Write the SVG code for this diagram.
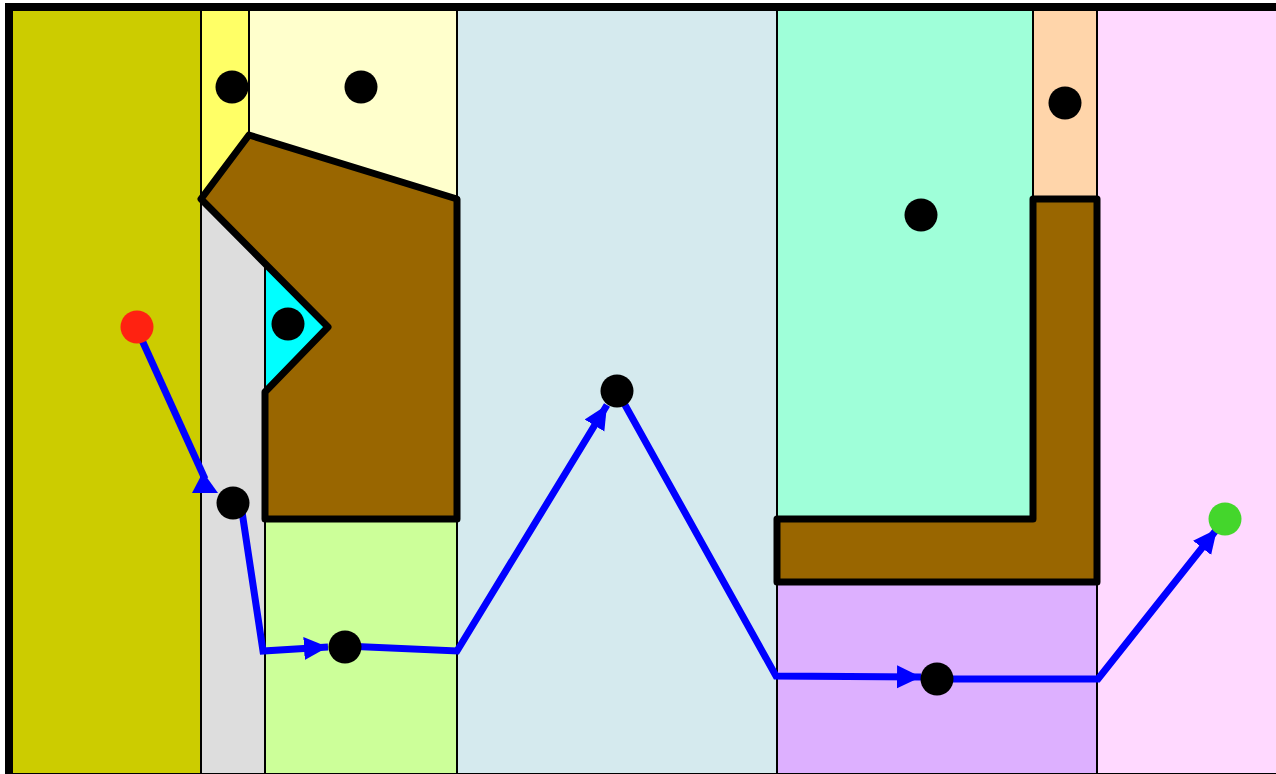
<svg xmlns="http://www.w3.org/2000/svg" width="1276" height="774" viewBox="0 0 1276 774">
<style>
.cell{stroke:none}
.wall{stroke:#000;stroke-width:2;fill:none}
.obst{fill:#996600;stroke:#000;stroke-width:7;stroke-linejoin:round}
.dot{fill:#000}
.path{fill:none;stroke:#0000FF;stroke-width:7;stroke-linejoin:miter}
.head{fill:#0000FF}
</style>
<defs>
<marker id="arr" markerUnits="userSpaceOnUse" markerWidth="26" markerHeight="24" refX="24" refY="11.5" orient="auto">
<path d="M0,0 L24,11.5 L0,23 z" fill="#0000FF"/>
</marker>
</defs>
<g id="cells">
<rect class="cell" x="9" y="7" width="192" height="770" fill="#CCCC00"/>
<polygon class="cell" points="201,7 249,7 249,135 201,199" fill="#FFFF66"/>
<polygon class="cell" points="249,7 457,7 457,199 249,135" fill="#FFFFCC"/>
<polygon class="cell" points="201,199 265,262 265,777 201,777" fill="#DDDDDD"/>
<polygon class="cell" points="265,262 328,327 265,390" fill="#00FFFF"/>
<rect class="cell" x="265" y="519" width="192" height="258" fill="#CCFF99"/>
<rect class="cell" x="457" y="7" width="320" height="770" fill="#D5EAEE"/>
<rect class="cell" x="777" y="7" width="256" height="512" fill="#9FFFD9"/>
<rect class="cell" x="1033" y="7" width="64" height="192" fill="#FFD5AA"/>
<rect class="cell" x="777" y="582" width="320" height="195" fill="#DDB0FF"/>
<rect class="cell" x="1097" y="7" width="190" height="770" fill="#FFD9FF"/>
</g>
<g id="walls">
<line class="wall" x1="201" y1="7" x2="201" y2="777"/>
<line class="wall" x1="249" y1="7" x2="249" y2="135"/>
<line class="wall" x1="265" y1="262" x2="265" y2="777"/>
<line class="wall" x1="457" y1="7" x2="457" y2="777"/>
<line class="wall" x1="777" y1="7" x2="777" y2="777"/>
<line class="wall" x1="1033" y1="7" x2="1033" y2="199"/>
<line class="wall" x1="1097" y1="7" x2="1097" y2="777"/>
</g>
<g id="obstacles">
<polygon id="obstacle1" class="obst" points="201,199 249,135 457,199 457,519 265,519 265,392 328,327"/>
<polygon id="obstacle2" class="obst" points="1033,199 1097,199 1097,582 777,582 777,519 1033,519"/>
</g>
<rect id="frame" x="9" y="7" width="1280" height="770" fill="none" stroke="#000" stroke-width="8"/>
<g id="connectors">
<path class="path" d="M141,338 L205,479"/>
<polygon class="head" points="203,472 192,493 218,493"/>
<path class="path" d="M241,505 L263,651 L328,647" marker-end="url(#arr)"/>
<path class="path" d="M345,646 L457,651 L607,405" marker-end="url(#arr)"/>
<path class="path" d="M620,396 L776,676 L921,677" marker-end="url(#arr)"/>
<path class="path" d="M937,679 L1098,679 L1217,529" marker-end="url(#arr)"/>
</g>
<g id="n-start"><circle cx="137" cy="327" r="16.5" fill="#FF2211"/></g>
<g id="n-goal"><circle cx="1225" cy="519" r="16.5" fill="#44D62C"/></g>
<g id="n1"><circle class="dot" cx="232" cy="87" r="16.5"/></g>
<g id="n2"><circle class="dot" cx="361" cy="87" r="16.5"/></g>
<g id="n3"><circle class="dot" cx="288" cy="324" r="16.5"/></g>
<g id="n4"><circle class="dot" cx="233" cy="503" r="16.5"/></g>
<g id="n5"><circle class="dot" cx="345" cy="647" r="16.5"/></g>
<g id="n6"><circle class="dot" cx="617" cy="391" r="16.5"/></g>
<g id="n7"><circle class="dot" cx="921" cy="215" r="16.5"/></g>
<g id="n8"><circle class="dot" cx="1065" cy="103" r="16.5"/></g>
<g id="n9"><circle class="dot" cx="937" cy="679" r="16.5"/></g>
</svg>
